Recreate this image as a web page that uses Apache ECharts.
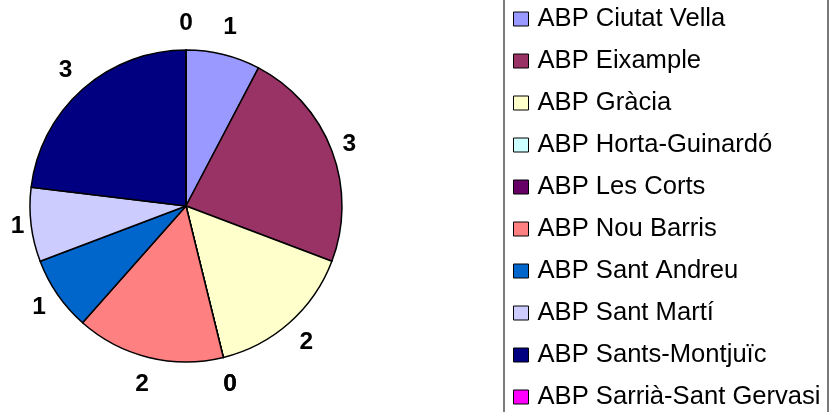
<!DOCTYPE html>
<html>
<head>
<meta charset="utf-8">
<script src="https://cdn.jsdelivr.net/npm/echarts@6/dist/echarts.min.js"></script>
<style>
  html, body { margin: 0; padding: 0; background: #fff; }
  #main { width: 830px; height: 412px; }
</style>
</head>
<body>
<div id="main"></div>
<script>
// districts, in legend order (clockwise from 12 o'clock)
var districts = [
  "ABP Ciutat Vella",
  "ABP Eixample",
  "ABP Gràcia",
  "ABP Horta-Guinardó",
  "ABP Les Corts",
  "ABP Nou Barris",
  "ABP Sant Andreu",
  "ABP Sant Martí",
  "ABP Sants-Montjuïc",
  "ABP Sarrià-Sant Gervasi"
];
var counts = [1, 3, 2, 0, 0, 2, 1, 1, 3, 0];
var colors = ["#9999FF", "#993366", "#FFFFCC", "#CCFFFF", "#660066",
              "#FF8080", "#0066CC", "#CCCCFF", "#000080", "#FF00FF"];

var pieData = districts.map(function (d, i) {
  return { name: d, value: counts[i] };
});

var CX = 186, CY = 206, R = 156;

var myChart = echarts.init(document.getElementById("main"));

// push each label out so its box sits a fixed gap off the rim (like excel does)
function placeLabel(params) {
  var r = params.labelRect;
  var lx = r.x + r.width / 2 - CX;
  var ly = r.y + r.height / 2 - CY;
  var len = Math.sqrt(lx * lx + ly * ly) || 1;
  var s = lx / len, c = ly / len;
  var dist = R + 4 + 7 * Math.abs(s) + 22.6 * Math.abs(c);
  return {
    x: CX + s * dist,
    y: CY + c * dist,
    align: "center",
    verticalAlign: "middle"
  };
}

var option = {
  animation: false,
  color: colors,
  legend: {
    orient: "vertical",
    left: 513,
    top: 5,
    padding: 0,
    itemWidth: 15,
    itemHeight: 14,
    itemGap: 14,
    icon: "rect",
    data: districts,
    itemStyle: { borderColor: "#000", borderWidth: 1 },
    textStyle: {
      fontFamily: "Liberation Sans, Arial, sans-serif",
      fontSize: 25.6,
      lineHeight: 28,
      color: "#000",
      padding: [0, 0, 0, 4]
    }
  },
  graphic: [
    {
      type: "rect",
      shape: { x: 504, y: -10, width: 324, height: 432 },
      style: { fill: "none", stroke: "#7a7a7a", lineWidth: 2 },
      silent: true
    }
  ],
  series: [
    {
      name: "pie",
      type: "pie",
      center: [CX, CY],
      radius: R,
      startAngle: 90,
      clockwise: true,
      label: { show: false },
      labelLine: { show: false },
      itemStyle: { borderColor: "#000", borderWidth: 1.5 },
      emphasis: { disabled: true },
      data: pieData
    },
    {
      // transparent ring, only there to carry the value labels
      name: "labels",
      type: "pie",
      center: [CX, CY],
      radius: [R, R + 40],
      startAngle: 90,
      clockwise: true,
      silent: true,
      legendHoverLink: false,
      itemStyle: { color: "rgba(0,0,0,0)", borderWidth: 0 },
      label: {
        show: true,
        position: "inside",
        formatter: "{c}",
        color: "#000",
        fontFamily: "Liberation Sans, Arial, sans-serif",
        fontWeight: "bold",
        fontSize: 24.5
      },
      labelLayout: placeLabel,
      labelLine: { show: false },
      emphasis: { disabled: true },
      data: pieData
    }
  ]
};

myChart.setOption(option);
</script>
</body>
</html>
